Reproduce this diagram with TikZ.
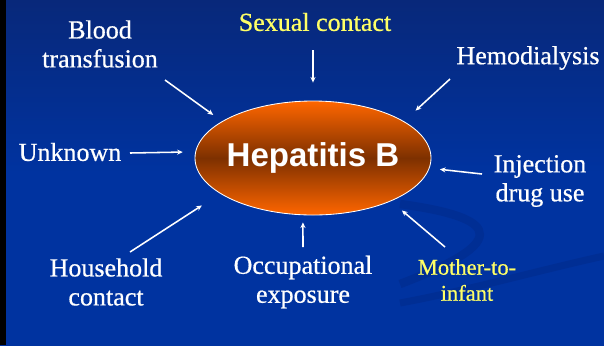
\documentclass[tikz,border=0pt]{standalone}
\usepackage{fontspec}
\setmainfont{Liberation Serif}
\newfontfamily\labfont[FakeBold=0.6]{Liberation Serif}
\newfontfamily\headfont{Liberation Sans}
\usetikzlibrary{arrows.meta,shapes.geometric}
\definecolor{bgblue}{RGB}{0,51,160}
\definecolor{bgtop}{RGB}{8,40,122}
\definecolor{swoosh}{RGB}{0,46,148}
\definecolor{hepor}{RGB}{255,102,0}
\definecolor{hepbrown}{RGB}{125,48,0}
\definecolor{labyellow}{RGB}{255,255,102}
\begin{document}
\begin{tikzpicture}[x=0.025cm, y=-0.025cm,
    lab/.style={text=white, align=center, inner sep=0pt, font=\labfont\fontsize{18.5}{20.6}\selectfont},
    ylab/.style={lab, text=labyellow},
    link/.style={white, line width=1.1pt, -{Stealth[length=4pt,width=3.6pt]}}]
    \useasboundingbox (0,0) rectangle (604,345);

    % background
    \shade[top color=bgtop, bottom color=bgblue, middle color=bgblue] (0,0) rectangle (604,345);
    \fill[black] (0,0) rectangle (6,345);
    \draw[swoosh, line width=6pt] (400,204) .. controls (480,215) and (530,235) .. (400,284);
    \draw[swoosh, line width=5pt] (400,303) .. controls (470,290) and (540,270) .. (604,256);

    % centre ellipse
    \node[ellipse, minimum width=236*0.025cm, minimum height=114*0.025cm, inner sep=0pt,
        draw=white, line width=0.6pt, top color=hepor, bottom color=hepor, middle color=hepbrown]
        (hepb) at (313,158) {};
    \node[text=white, inner sep=0pt, font=\headfont\bfseries\fontsize{23.5}{26}\selectfont]
        (hepbtext) at (hepb) {Hepatitis B};

    % routes of transmission
    \node[lab] (blood) at (100,44) {Blood\\transfusion};
    \node[ylab] (sexual) at (315,22) {Sexual contact};
    \node[lab] (hemo) at (528,58) {Hemodialysis};
    \node[lab] (unknown) at (70,152) {Unknown};
    \node[lab] (inject) at (540,181) {Injection\\drug use};
    \node[lab] (house) at (106,282) {Household\\contact};
    \node[lab] (occup) at (303,282) {Occupational\\exposure};
    \node[ylab, font=\labfont\fontsize{16}{18.5}\selectfont] (mother) at (467,280) {Mother-to-\\infant};

    % arrow tails
    \coordinate (tblood) at (165,80);
    \coordinate (tsexual) at (313,50);
    \coordinate (themo) at (450,79);
    \coordinate (tunknown) at (130,153);
    \coordinate (tinject) at (482,174);
    \coordinate (thouse) at (130,252);
    \coordinate (toccup) at (303,247);
    \coordinate (tmother) at (445,247);

    \draw[link, shorten >=7.7pt] (tblood) -- (hepb.158.2);
    \draw[link, shorten >=12.8pt] (tsexual) -- (hepb.90);
    \draw[link, shorten >=11.2pt] (themo) -- (hepb.22.9);
    \draw[link, shorten >=8.9pt] (tunknown) -- (hepb.177.6);
    \draw[link, shorten >=7.4pt] (tinject) -- (hepb.355.9);
    \draw[link, shorten >=15.5pt] (thouse) -- (hepb.201.7);
    \draw[link, shorten >=5.1pt] (toccup) -- (hepb.260);
    \draw[link, shorten >=10.2pt] (tmother) -- (hepb.331.8);
\end{tikzpicture}
\end{document}
